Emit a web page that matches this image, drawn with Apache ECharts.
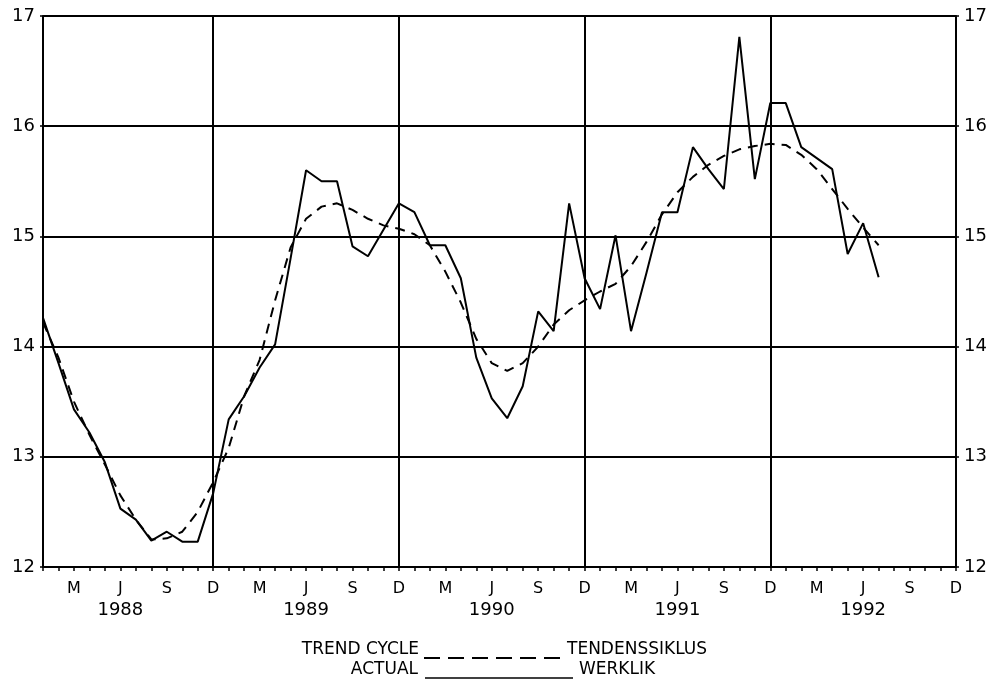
<!DOCTYPE html>
<html>
<head>
<meta charset="utf-8">
<script src="https://cdn.jsdelivr.net/npm/echarts@6/dist/echarts.min.js"></script>
<style>
html,body{margin:0;padding:0;background:#fff;}
#chart{width:992px;height:683px;}
</style>
</head>
<body>
<div id="chart"></div>
<script>
// ---- Data ----
const years = [1988, 1989, 1990, 1991, 1992];
const monthLetters = ['J','F','M','A','M','J','J','A','S','O','N','D'];
const labelledMonths = [2, 5, 8, 11];      // M, J, S, D
const yearLabelMonth = 5;                  // year written under June
const yTicks = [12, 13, 14, 15, 16, 17];

// Actual (WERKLIK), monthly from Jan 1988 to Jul 1992
const actual = [
  14.26, 13.85, 13.43, 13.22, 12.95, 12.53, 12.43, 12.24, 12.32, 12.23, 12.23, 12.67,
  13.34, 13.55, 13.81, 14.02, 14.80, 15.60, 15.50, 15.50, 14.91, 14.82, 15.06, 15.30,
  15.22, 14.92, 14.92, 14.62, 13.90, 13.53, 13.35, 13.64, 14.32, 14.14, 15.30, 14.62,
  14.34, 15.01, 14.14, 14.67, 15.22, 15.22, 15.81, 15.61, 15.43, 16.81, 15.52, 16.21,
  16.21, 15.81, 15.71, 15.61, 14.84, 15.12, 14.63
];

// Trend cycle (TENDENSSIKLUS), monthly from Jan 1988 to Jul 1992
const trend = [
  14.22, 13.90, 13.50, 13.20, 12.93, 12.65, 12.43, 12.25, 12.26, 12.32, 12.50, 12.77,
  13.08, 13.55, 13.88, 14.42, 14.90, 15.16, 15.27, 15.30, 15.24, 15.16, 15.10, 15.07,
  15.02, 14.92, 14.68, 14.40, 14.07, 13.85, 13.78, 13.85, 14.00, 14.20, 14.33, 14.42,
  14.50, 14.57, 14.73, 14.95, 15.20, 15.40, 15.54, 15.65, 15.73, 15.79, 15.82, 15.84,
  15.83, 15.74, 15.61, 15.43, 15.25, 15.08, 14.92
];

// categories (one per month)
const months = [];
years.forEach(y => monthLetters.forEach((m, i) => months.push(y + '-' + (i + 1))));

const FONT = 'DejaVu Sans';
const chart = echarts.init(document.getElementById('chart'));

const yAxisCommon = {
  type: 'value', min: yTicks[0], max: yTicks[yTicks.length - 1], interval: 1,
  axisLine: { show: true, lineStyle: { color: '#000', width: 2 } },
  axisTick: { show: true, length: 3, lineStyle: { color: '#000', width: 1.5 } },
  axisLabel: { color: '#000', fontFamily: FONT, fontSize: 18, margin: 8 }
};

chart.setOption({
  animation: false,
  backgroundColor: '#fff',
  grid: { left: 43, right: 36, top: 16, bottom: 116, containLabel: false },
  xAxis: {
    type: 'category',
    data: months,
    boundaryGap: false,
    axisLine: { show: true, lineStyle: { color: '#000', width: 2 } },
    axisTick: { show: true, interval: 0, length: 4, lineStyle: { color: '#000', width: 1.5 } },
    splitLine: {
      show: true,
      interval: (idx) => idx % 12 === 11,
      lineStyle: { color: '#000', width: 2 }
    },
    axisLabel: {
      interval: 0,
      margin: 12,
      color: '#000',
      formatter: (value, idx) => {
        const m = idx % 12;
        if (labelledMonths.indexOf(m) < 0) return '';
        const yr = years[Math.floor(idx / 12)];
        if (m === yearLabelMonth) return '{m|' + monthLetters[m] + '}\n{y|' + yr + '}';
        return '{m|' + monthLetters[m] + '}';
      },
      rich: {
        m: { fontFamily: FONT, fontSize: 16, lineHeight: 20, color: '#000' },
        y: { fontFamily: FONT, fontSize: 18, lineHeight: 22, color: '#000' }
      }
    }
  },
  yAxis: [
    Object.assign({}, yAxisCommon, {
      position: 'left',
      splitLine: { show: true, lineStyle: { color: '#000', width: 2 } }
    }),
    Object.assign({}, yAxisCommon, {
      position: 'right',
      splitLine: { show: false }
    })
  ],
  series: [
    {
      name: 'TREND CYCLE', type: 'line', data: trend, yAxisIndex: 0,
      symbol: 'none', smooth: false,
      lineStyle: { color: '#000', width: 2, type: [10, 7] },
      z: 3
    },
    {
      name: 'ACTUAL', type: 'line', data: actual, yAxisIndex: 0,
      symbol: 'none', smooth: false,
      lineStyle: { color: '#000', width: 2 },
      z: 4
    }
  ],
  graphic: [
    { type: 'text', x: 419, y: 650, style: { text: 'TREND CYCLE', fill: '#000', font: '17px "DejaVu Sans"', align: 'right', verticalAlign: 'middle', textAlign: 'right', textVerticalAlign: 'middle' } },
    { type: 'line', shape: { x1: 424, y1: 658, x2: 563, y2: 658 }, style: { stroke: '#000', lineWidth: 2, lineDash: [16, 8] } },
    { type: 'text', x: 567, y: 650, style: { text: 'TENDENSSIKLUS', fill: '#000', font: '17px "DejaVu Sans"', align: 'left', verticalAlign: 'middle', textAlign: 'left', textVerticalAlign: 'middle' } },
    { type: 'text', x: 418, y: 670, style: { text: 'ACTUAL', fill: '#000', font: '17px "DejaVu Sans"', align: 'right', verticalAlign: 'middle', textAlign: 'right', textVerticalAlign: 'middle' } },
    { type: 'line', shape: { x1: 425, y1: 678, x2: 573, y2: 678 }, style: { stroke: '#000', lineWidth: 1.5 } },
    { type: 'text', x: 579, y: 670, style: { text: 'WERKLIK', fill: '#000', font: '17px "DejaVu Sans"', align: 'left', verticalAlign: 'middle', textAlign: 'left', textVerticalAlign: 'middle' } }
  ]
});
</script>
</body>
</html>
